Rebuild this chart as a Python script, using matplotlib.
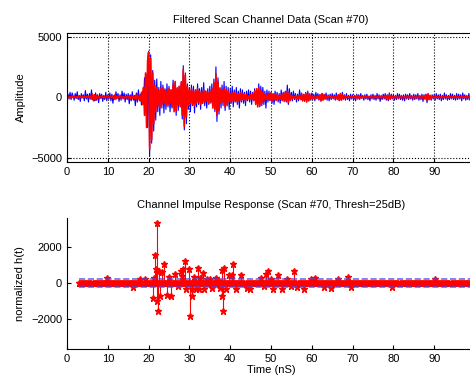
import numpy as np
import matplotlib
matplotlib.use("Agg")
import matplotlib.pyplot as plt

# ---- top panel: filtered scan channel data (sampled every 0.25 ns) ----
dt = 0.25
blue_vals = [
    -300, 250, -150, 400, -200, 350, 100, -250, 300, -100, 450, -200, 150, -350, 300, -50, 200, -300, 550, -150,
    250, -400, 300, -150, 600, -200, 100, -300, 350, -250, 200, -450, 300, -100, 250, -350, 150, -200, 400, -300,
    200, -150, 350, -300, 250, -500, 150, -200, 450, -100, 300, -350, 200, -250, 500, -150, 350, -400, 250, -200,
    300, -550, 200, -300, 450, -250, 150, -700, 350, -400, 600, -300, 250, -650, 500, -350, 1600, -1200, 1800, -2500,
    3800, -4900, 3500, -3800, 2200, -2800, 1400, -1900, 1500, -1200, 800, -1500, 1300, -900, 1000, -1300, 700, -1000, 1100, -800,
    900, -1200, 600, -900, 1400, -700, 1200, -1500, 800, -1100, 900, -700, 1300, -1800, 2600, -2700, 2000, -2200, 1100, -1000,
    800, -1200, 1000, -700, 900, -1300, 600, -800, 1100, -600, 700, -1000, 800, -500, 1200, -700, 500, -900, 700, -600,
    900, -500, 1100, -800, 1500, -1200, 2500, -2000, 1600, -1400, 800, -900, 1000, -700, 1300, -1100, 900, -600, 800, -1000,
    700, -500, 900, -800, 600, -400, 800, -600, 500, -900, 700, -400, 600, -500, 400, -700, 500, -300, 600, -400,
    500, -600, 400, -300, 700, -500, 600, -400, 1100, -800, 900, -700, 800, -600, 500, -900, 600, -400, 500, -300,
    400, -500, 300, -600, 500, -300, 400, -400, 300, -500, 600, -300, 400, -200, 500, -400, 1000, -600, 700, -300,
    400, -300, 500, -200, 300, -400, 250, -300, 600, -200, 350, -300, 250, -350, 400, -200, 500, -300, 300, -250,
    350, -200, 250, -300, 400, -150, 300, -250, 200, -350, 300, -200, 250, -150, 350, -250, 200, -300, 250, -200,
    300, -150, 200, -250, 350, -200, 150, -300, 250, -200, 400, -150, 200, -250, 300, -200, 150, -300, 250, -150,
    200, -250, 150, -300, 250, -150, 200, -200, 300, -100, 150, -250, 200, -150, 250, -200, 100, -300, 200, -150,
    250, -200, 150, -250, 300, -150, 200, -350, 150, -200, 250, -150, 300, -250, 200, -300, 350, -200, 250, -150,
    200, -250, 150, -200, 300, -150, 250, -200, 150, -250, 200, -300, 250, -150, 200, -200, 300, -150, 150, -250,
    250, -200, 200, -150, 300, -250, 150, -200, 250, -350, 200, -150, 250, -450, 300, -200, 150, -250, 200, -150,
    200, -250, 300, -150, 200, -200, 250, -300, 150, -200, 350, -150, 200, -250, 150, -200, 300, -150, 250, -200,
    150, -250, 300, -200, 250, -150, 200, -300, 350, -150, 200, -250, 150, -200, 300, -250, 200, -150, 400, -200,
]
red_vals = [
    0, 50, -60, 40, -50, 70, -40, 60, -50, 40, -70, 50, -40, 60, -50, 80, -60, 50, -40, 60,
    -50, 70, -60, 100, -150, 250, -300, 200, -250, 150, -100, 60, -50, 80, -60, 50, -70, 40, -60, 50,
    -40, 60, -70, 50, -60, 100, -150, 200, -150, 100, -80, 60, -50, 70, -60, 50, -80, 60, -50, 70,
    -60, 100, -150, 120, -80, 60, -100, 150, -200, 250, -150, 100, -300, 400, -600, 800, -1500, 2000, -2500, 3000,
    3700, -4300, 3200, -3500, 2000, -2200, 1000, -1200, 800, -700, 600, -900, 700, -600, 800, -500, 600, -700, 500, -600,
    700, -500, 600, -800, 1000, -1200, 1300, -1100, 700, -600, 900, -800, 1200, -1500, 2300, -2400, 1800, -1600, 900, -700,
    600, -500, 700, -600, 500, -700, 600, -500, 700, -400, 500, -600, 400, -500, 600, -400, 500, -300, 400, -500,
    500, -400, 700, -900, 1200, -1000, 1900, -1500, 1300, -1100, 700, -500, 600, -400, 700, -800, 600, -700, 500, -400,
    300, -400, 350, -300, 400, -350, 300, -400, 250, -300, 350, -250, 300, -200, 250, -300, 200, -150, 100, -150,
    200, -150, 300, -250, 500, -600, 700, -800, 800, -700, 600, -500, 400, -300, 250, -200, 150, -200, 300, -250,
    350, -300, 250, -200, 300, -250, 200, -150, 100, -150, 200, -250, 300, -350, 400, -300, 500, -450, 350, -250,
    150, -100, 80, -60, 100, -150, 80, -100, 150, -200, 250, -300, 200, -250, 300, -400, 350, -300, 200, -150,
    100, -80, 60, -100, 80, -60, 100, -150, 200, -250, 300, -250, 200, -150, 100, -80, 60, -50, 80, -60,
    50, -70, 60, -80, 100, -150, 200, -250, 300, -250, 200, -150, 100, -80, 60, -50, 70, -60, 50, -40,
    60, -50, 80, -100, 150, -120, 100, -80, 60, -50, 40, -60, 50, -40, 60, -50, 40, -50, 60, -40,
    50, -60, 40, -50, 60, -50, 40, -60, 50, -40, 60, -50, 80, -100, 150, -200, 200, -150, 100, -60,
    50, -40, 60, -50, 40, -60, 50, -40, 60, -50, 40, -50, 60, -40, 50, -60, 40, -50, 60, -40,
    50, -60, 40, -50, 60, -50, 40, -60, 50, -80, 100, -150, 200, -250, 250, -200, 150, -100, 60, -50,
    40, -60, 50, -40, 60, -50, 40, -60, 50, -40, 60, -50, 40, -60, 50, -40, 60, -50, 40, -60,
    50, -40, 60, -50, 40, -60, 50, -40, 60, -50, 40, -60, 50, -40, 60, -50, 40, -60, 50, -40,
]

# ---- bottom panel: impulse response taps above threshold ----
tap_t = [9.7, 16.1, 17.9, 19.2, 21.0, 21.2, 21.6, 21.8, 22.1, 22.0, 22.4, 22.6, 22.9, 23.4, 23.7,
         24.6, 24.9, 25.4, 26.5, 27.3, 27.9, 28.3, 28.5, 28.8, 29.1, 29.9, 30.2, 30.6, 30.7, 31.2,
         31.6, 32.0, 32.4, 32.7, 33.4, 33.6, 34.4, 35.0, 35.6, 36.5, 37.3, 37.5, 37.9, 38.1, 38.3,
         38.6, 38.9, 39.7, 40.5, 40.8, 41.5, 42.6, 44.2, 44.8, 47.5, 48.3, 48.7, 49.3, 49.9, 50.5,
         51.6, 52.8, 53.8, 54.8, 55.6, 56.4, 58.1, 59.7, 60.8, 63.0, 64.6, 66.5, 68.9, 69.5, 79.7,
         90.1]
tap_v = [260, -200, 200, 200, -810, 300, 1570, 800, 3350, -1000, -1550, 660, -720, 600, 1050,
         -680, 350, -720, 480, -170, 660, 390, 760, 1220, -350, 760, -1830, -350, -720, 350,
         -350, 850, -350, 300, 540, -350, 240, 240, -260, 300, 110, -260, 720, -720, -1550,
         830, -350, 430, 430, 1040, -350, 430, -260, -350, 300, -170, 480, 660, 240, -350,
         430, -350, 240, -170, 660, -220, -350, 240, 300, -220, -260, 240, 350, -220, -220,
         200]
thresh = 200
t_start, t_end = 3.0, 100.0

t_sig = np.arange(len(blue_vals)) * dt
t_grid = np.arange(t_start, t_end, dt)
t_h = np.concatenate([t_grid, tap_t])
h = np.concatenate([np.zeros(len(t_grid)), tap_v])

fig = plt.figure(figsize=(4.7, 3.88), dpi=100)
plt.rcParams['font.family'] = ['Liberation Sans', 'DejaVu Sans']

ax1 = fig.add_axes([0.1426, 0.5825, 0.868, 0.3325])
ax1.plot(t_sig, blue_vals, color='#0000ff', lw=0.8)
ax1.plot(t_sig, red_vals, color='#ff0000', lw=1.2)
ax1.set_xlim(0, 100)
ax1.set_ylim(-5350, 5300)
ax1.set_xticks(np.arange(0, 100, 10))
ax1.set_yticks([-5000, 0, 5000])
ax1.grid(True, linestyle=':', color='black', lw=0.8)
ax1.tick_params(direction='in', labelsize=8, length=3)
ax1.set_ylabel("Amplitude", fontsize=8)
ax1.set_title("Filtered Scan Channel Data (Scan #70)", fontsize=8, pad=7)

ax2 = fig.add_axes([0.1426, 0.1005, 0.868, 0.3375])
markers, stems, base = ax2.stem(t_h, h, linefmt='r-', markerfmt='r*', basefmt=' ')
plt.setp(stems, linewidth=0.8)
plt.setp(markers, markersize=4.5)
ax2.plot([t_start, t_end], [thresh, thresh], '--', color='#4848e8', lw=1.2, alpha=0.8, zorder=5)
ax2.plot([t_start, t_end], [-thresh, -thresh], '--', color='#4848e8', lw=1.2, alpha=0.8, zorder=5)
ax2.set_xlim(0, 100)
ax2.set_ylim(-3650, 3600)
ax2.set_xticks(np.arange(0, 100, 10))
ax2.set_yticks([-2000, 0, 2000])
ax2.spines['top'].set_visible(False)
ax2.spines['right'].set_visible(False)
ax2.tick_params(direction='in', labelsize=8, length=3)
ax2.set_ylabel("normalized h(t)", fontsize=8)
ax2.set_xlabel("Time (nS)", fontsize=8, labelpad=1)
ax2.set_title("Channel Impulse Response (Scan #70, Thresh=25dB)", fontsize=8, pad=7)

plt.savefig("out.png", dpi=100)
